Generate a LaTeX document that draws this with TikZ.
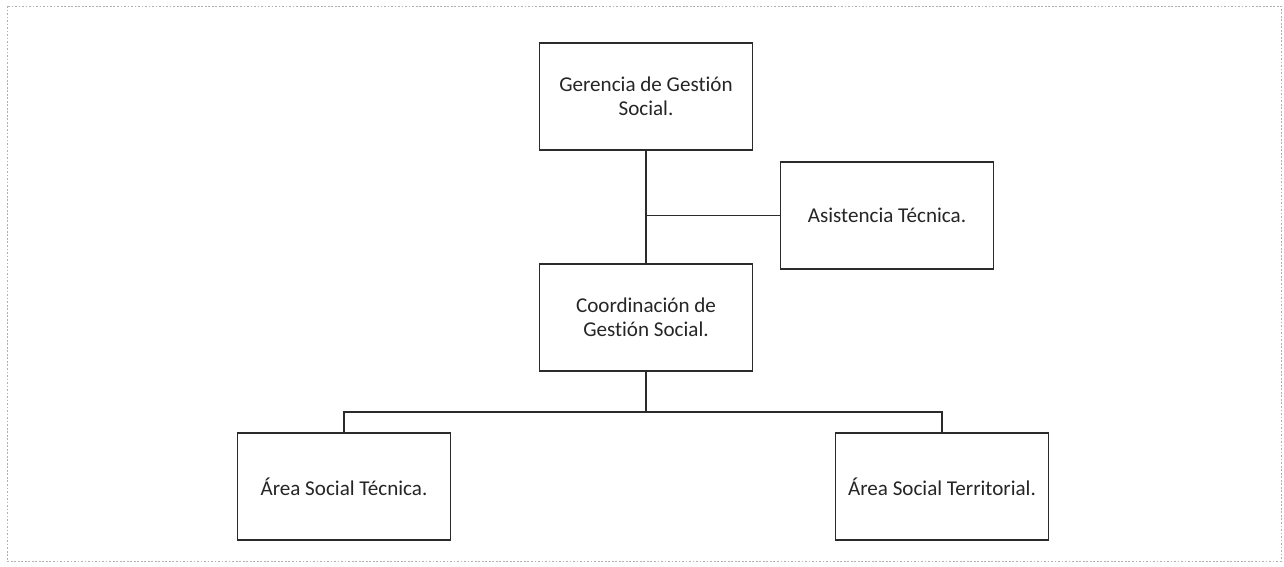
\documentclass[tikz,border=0pt]{standalone}
\usepackage{fontspec}
\setmainfont{Carlito}[Ligatures=NoCommon]
\usepackage{tikz}
\usetikzlibrary{positioning,calc}
\definecolor{boxline}{HTML}{2B2B2B}
\definecolor{scangray}{HTML}{B0B0B0}

\begin{document}
\begin{tikzpicture}[
  every node/.style={font=\fontsize{12}{13.5}\selectfont, text=black!85},
  unitbox/.style={rectangle, draw=boxline, line width=1.1pt, fill=white, minimum width=4.26cm, minimum height=2.14cm, align=center, inner sep=4pt},
  link/.style={draw=boxline, line width=0.9pt}
]

% page frame
\useasboundingbox (0,0) rectangle (25.68,-11.34);
\draw[scangray, line width=0.5pt, dash pattern=on 1pt off 1pt] (0.14,-0.12) rectangle (25.62,-11.22);

% Gerencia (top)
\node[unitbox] (ger) at (12.92, -1.93) {Gerencia de Gestión\\Social.};

% Asistencia (right of the trunk)
\node[unitbox] (asist) at (17.74, -4.31) {Asistencia Técnica.};

% Coordinacion (middle)
\node[unitbox] (coord) at (12.92, -6.35) {Coordinación de\\Gestión Social.};

% Areas (bottom)
\node[unitbox] (tec) at (6.88, -9.73) {Área Social Técnica.};
\node[unitbox] (terr) at (18.84, -9.73) {Área Social Territorial.};

% Lines
\coordinate (bus) at ($(coord.south)+(0,-0.8)$);
\draw[link] (ger) -- (coord);
\draw[link] (asist.west) -- (asist.west -| ger.south);
\draw[link] (coord.south) -- (bus);
\draw[link] (tec.north) |- (bus) -| (terr.north);

\end{tikzpicture}
\end{document}
